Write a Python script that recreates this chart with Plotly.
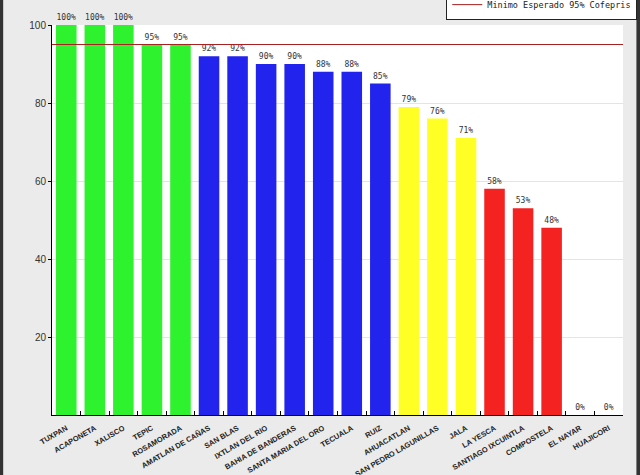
import plotly.graph_objects as go

categories = ["TUXPAN", "ACAPONETA", "XALISCO", "TEPIC", "ROSAMORADA",
              "AMATLAN DE CAÑAS", "SAN BLAS", "IXTLAN DEL RIO", "BAHIA DE BANDERAS",
              "SANTA MARIA DEL ORO", "TECUALA", "RUIZ", "AHUACATLAN",
              "SAN PEDRO LAGUNILLAS", "JALA", "LA YESCA", "SANTIAGO IXCUINTLA",
              "COMPOSTELA", "EL NAYAR", "HUAJICORI"]
values = [100, 100, 100, 95, 95, 92, 92, 90, 90, 88, 88, 85, 79, 76, 71, 58, 53, 48, 0, 0]
groups = ["g"] * 5 + ["b"] * 7 + ["y"] * 3 + ["r"] * 3 + ["r"] * 2
group_colors = {"g": "#2df22d", "b": "#2323ee", "y": "#ffff26", "r": "#f52222"}
threshold = 95
threshold_name = "Minimo Esperado 95% Cofepris"
y_ticks = [20, 40, 60, 80, 100]

fig = go.Figure()
fig.add_trace(go.Bar(
    x=categories, y=values,
    marker=dict(color=[group_colors[g] for g in groups], line=dict(width=0)),
    text=[f"{v}%" for v in values], textposition="outside",
    textfont=dict(family="DejaVu Sans Mono", size=8, color="#333333"),
    cliponaxis=False, showlegend=False, width=0.72,
))

fig.add_shape(type="line", xref="paper", yref="y", x0=0, x1=1, y0=threshold, y1=threshold,
              line=dict(color="#a82020", width=1), showlegend=True, name=threshold_name)

# outer dark frame edges
fig.add_shape(type="line", xref="paper", yref="paper", x0=-0.089, x1=-0.089, y0=-0.16, y1=1.07,
              line=dict(color="#333333", width=4))
fig.add_shape(type="line", xref="paper", yref="paper", x0=1.027, x1=1.027, y0=-0.16, y1=1.07,
              line=dict(color="#333333", width=4))

fig.update_layout(
    width=640, height=475,
    margin=dict(l=52, r=17, t=25, b=60, autoexpand=False),
    paper_bgcolor="#ebebeb", plot_bgcolor="#ffffff",
    bargap=0.28,
    showlegend=True,
    legend=dict(x=1.025, y=1.092, xanchor="right", yanchor="top",
                bgcolor="#ffffff", bordercolor="#222222", borderwidth=1,
                font=dict(family="DejaVu Sans Mono", size=8.5, color="#222222"),
                itemwidth=30, tracegroupgap=0),
    xaxis=dict(type="category", showline=True, linecolor="#000000", linewidth=1,
               ticks="inside", ticklen=4, tickcolor="#000000", tickson="boundaries",
               tickangle=-30, ticklabelstandoff=5,
               tickfont=dict(family="Liberation Sans", size=7.5, color="#222222", weight="bold"),
               showgrid=False),
    yaxis=dict(range=[0, 100], tickvals=y_ticks, showline=True, linecolor="#000000", linewidth=1,
               ticks="outside", ticklen=3, tickcolor="#000000",
               tickfont=dict(family="Liberation Sans", size=10, color="#333333"),
               showgrid=True, gridcolor="#e4e4e4", zeroline=False),
)

fig.write_html("out.html", config={"displayModeBar": False},
               post_script="document.body.style.margin='0';")
